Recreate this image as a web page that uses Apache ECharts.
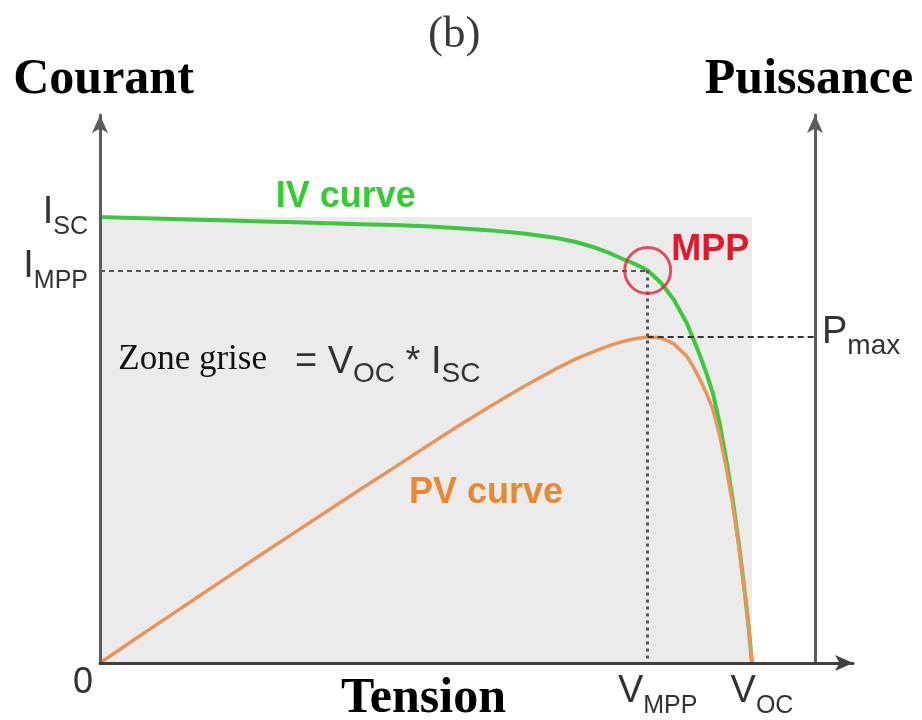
<!DOCTYPE html>
<html>
<head>
<meta charset="utf-8">
<script src="https://cdn.jsdelivr.net/npm/echarts@6/dist/echarts.min.js"></script>
<style>
  html, body { margin: 0; padding: 0; background: #fff; }
  #chart { width: 922px; height: 720px; }
</style>
</head>
<body>
<div id="chart"></div>
<script>
// Solar cell characteristic, normalised units (V / Voc, I / Isc, P on the same scale)
const voltage = [0, 0.05, 0.10, 0.15, 0.20, 0.25, 0.30, 0.35, 0.40, 0.45, 0.50, 0.55, 0.60, 0.65, 0.70,
                 0.73, 0.76, 0.78, 0.80, 0.82, 0.84, 0.86, 0.88, 0.90, 0.91, 0.92, 0.93, 0.94, 0.95,
                 0.96, 0.97, 0.98, 0.99, 0.995, 1.0];
const current = [1.000, 0.998, 0.996, 0.994, 0.992, 0.990, 0.988, 0.986, 0.984, 0.982, 0.979, 0.975, 0.970, 0.963, 0.953,
                 0.944, 0.931, 0.920, 0.907, 0.895, 0.880, 0.853, 0.815, 0.762, 0.727, 0.690, 0.650, 0.605, 0.540,
                 0.460, 0.370, 0.265, 0.145, 0.078, 0];
const power   = [0, 0.050, 0.099, 0.148, 0.197, 0.246, 0.294, 0.342, 0.390, 0.437, 0.485, 0.532, 0.577, 0.620, 0.660,
                 0.682, 0.700, 0.711, 0.720, 0.727, 0.731, 0.729, 0.716, 0.688, 0.664, 0.636, 0.605, 0.569, 0.513,
                 0.442, 0.359, 0.260, 0.144, 0.078, 0];

// Tick label names: [main symbol, subscript]
const voltageTicks = [['0', ''], ['V', 'MPP'], ['V', 'OC']];
const currentTicks = [['I', 'MPP'], ['I', 'SC']];
const powerTicks   = [['P', 'max']];

// Characteristic points
const mppIndex = power.indexOf(Math.max(...power));
const vMpp = voltage[mppIndex];
const iMpp = current[mppIndex];
const pMax = power[mppIndex];
const vOc = voltage[voltage.length - 1];
const iSc = current[0];

const SANS = '"Liberation Sans", Arial, sans-serif';
const SERIF = '"Liberation Serif", "Times New Roman", serif';
const TXT = '#333';
const GREEN = '#3cc83c';
const ORANGE = '#e8955a';
const RED = '#e3192b';

// Axis extents (arrow tips sit at the ends)
const xMax = 1.1549;
const yMax = 1.2287;
const powerAxisV = 1.0966; // voltage at which the power axis stands

const pairs = (ys) => voltage.map((v, i) => [v, ys[i]]);

function tickFormatter(values, names) {
  return function (val) {
    const k = values.findIndex(x => Math.abs(x - val) < 1e-9);
    if (k < 0) return '';
    const [b, s] = names[k];
    return s ? '{b|' + b + '}{s|' + s + '}' : '{z|' + b + '}';
  };
}

function subRich(big, small, drop, leftPad) {
  const d = drop - 0.1535 * (big - small);
  return {
    b: { fontFamily: SANS, fontSize: big, color: TXT, verticalAlign: 'bottom', padding: [0, 0, d, leftPad || 0] },
    s: { fontFamily: SANS, fontSize: small, color: TXT, verticalAlign: 'bottom' },
    z: { fontFamily: SANS, fontSize: 36, color: TXT, lineHeight: 20, padding: [0, 34, 0, 0] }
  };
}

const axisArrow = (color) => ({
  show: true,
  symbol: ['none', 'arrow'],
  symbolSize: [12, 18],
  lineStyle: { color: color, width: 3 }
});

const nameStyle = (extra) => Object.assign({
  fontFamily: SERIF, fontWeight: 'bold', fontSize: 50, color: '#000'
}, extra || {});

const xTickValues = [0, vMpp, vOc];
const iTickValues = [iMpp, iSc];
const pTickValues = [pMax];

const option = {
  animation: false,
  title: {
    text: '(b)',
    left: 423,
    top: 8,
    textStyle: { fontFamily: SERIF, fontSize: 45, fontWeight: 'normal', color: '#3a3a3a' }
  },
  grid: { left: 100, right: 69, top: 115, bottom: 57, containLabel: false, outerBoundsMode: 'none' },
  xAxis: {
    type: 'value',
    min: 0,
    max: xMax,
    z: 10,
    axisLine: axisArrow('#404040'),
    axisTick: { show: false },
    splitLine: { show: false },
    axisLabel: {
      customValues: xTickValues,
      margin: 10,
      formatter: tickFormatter(xTickValues, voltageTicks),
      rich: subRich(38, 25, 10, 20)
    },
    name: 'Tension',
    nameLocation: 'middle',
    nameGap: 11,
    nameMoveOverlap: false,
    nameTextStyle: nameStyle({ padding: [0, 106, 0, 0] })
  },
  yAxis: [
    {
      type: 'value',
      position: 'left',
      min: 0,
      max: yMax,
      z: 10,
      axisLine: axisArrow('#5c5c5c'),
      axisTick: { show: false },
      splitLine: { show: false },
      axisLabel: {
        customValues: iTickValues,
        margin: 12,
        formatter: tickFormatter(iTickValues, currentTicks),
        rich: subRich(38, 25, 10)
      },
      name: 'Courant',
      nameLocation: 'end',
      nameGap: 10,
      nameMoveOverlap: false,
      nameTextStyle: nameStyle({ padding: [0, 0, 0, 7] })
    },
    {
      type: 'value',
      position: 'right',
      offset: -38,
      min: 0,
      max: yMax,
      z: 10,
      axisLine: axisArrow('#5c5c5c'),
      axisTick: { show: false },
      splitLine: { show: false },
      axisLabel: {
        customValues: pTickValues,
        margin: 7,
        formatter: tickFormatter(pTickValues, powerTicks),
        rich: subRich(38, 28, 10)
      },
      name: 'Puissance',
      nameLocation: 'end',
      nameGap: 10,
      nameMoveOverlap: false,
      nameTextStyle: nameStyle({ padding: [0, 12, 0, 0] })
    }
  ],
  series: [
    {
      // grey rectangle Voc x Isc
      name: 'zone',
      type: 'line',
      data: [],
      z: 1,
      silent: true,
      markArea: {
        silent: true,
        itemStyle: { color: '#ebebeb' },
        data: [[{ coord: [0, 0] }, { coord: [vOc, iSc] }]]
      },
      markPoint: {
        silent: true,
        symbol: 'circle',
        symbolSize: 0,
        data: [{
          coord: [0.028, 0.668],
          label: {
            show: true,
            position: 'right',
            distance: 0,
            formatter: '{zt|Zone grise}{zb|= V}{zs|OC}{zb| * I}{zs|SC}',
            rich: {
              zt: { fontFamily: SERIF, fontSize: 35, color: '#111', verticalAlign: 'bottom', padding: [0, 28, 11, 0] },
              zb: { fontFamily: SANS, fontSize: 38, color: TXT, verticalAlign: 'bottom', padding: [0, 0, 6.5, 0] },
              zs: { fontFamily: SANS, fontSize: 28, color: TXT, verticalAlign: 'bottom' }
            }
          }
        }]
      }
    },
    {
      name: 'IV curve',
      type: 'line',
      data: pairs(current),
      yAxisIndex: 0,
      z: 3,
      symbol: 'none',
      lineStyle: { color: GREEN, width: 4, join: 'round' },
      markLine: {
        silent: true,
        symbol: ['none', 'none'],
        label: { show: false },
        data: [
          [
            { coord: [0, iMpp], lineStyle: { color: '#555', width: 2, type: [5, 4] } },
            { coord: [vMpp, iMpp] }
          ],
          [
            { coord: [vMpp, iMpp], lineStyle: { color: '#555', width: 3, type: [3, 4] } },
            { coord: [vMpp, 0] }
          ]
        ]
      },
      markPoint: {
        silent: true,
        symbol: 'circle',
        symbolSize: 0,
        data: [{
          coord: [0.377, 1.045],
          label: {
            show: true, position: 'inside', formatter: 'IV curve',
            fontFamily: SANS, fontWeight: 'bold', fontSize: 36, color: '#33cc33'
          }
        }]
      }
    },
    {
      name: 'PV curve',
      type: 'line',
      data: pairs(power),
      yAxisIndex: 1,
      z: 4,
      symbol: 'none',
      lineStyle: { color: ORANGE, width: 3.5, join: 'round' },
      markLine: {
        silent: true,
        symbol: ['none', 'none'],
        label: { show: false },
        data: [
          [
            { coord: [vMpp, pMax], lineStyle: { color: '#333', width: 2, type: [6, 4] } },
            { coord: [powerAxisV, pMax] }
          ]
        ]
      },
      markPoint: {
        silent: true,
        symbol: 'circle',
        symbolSize: 0,
        data: [{
          coord: [0.592, 0.381],
          label: {
            show: true, position: 'inside', formatter: 'PV curve',
            fontFamily: SANS, fontWeight: 'bold', fontSize: 36, color: '#e8892f'
          }
        }]
      }
    },
    {
      name: 'MPP',
      type: 'scatter',
      data: [[vMpp, iMpp]],
      z: 5,
      silent: true,
      symbol: 'circle',
      symbolSize: 46,
      itemStyle: { color: 'rgba(0,0,0,0)', borderColor: '#d9283a', borderWidth: 3 },
      markPoint: {
        silent: true,
        symbol: 'circle',
        symbolSize: 0,
        data: [{
          coord: [0.936, 0.926],
          label: {
            show: true, position: 'inside', formatter: 'MPP',
            fontFamily: SANS, fontWeight: 'bold', fontSize: 36, color: RED
          }
        }]
      }
    }
  ]
};

const chart = echarts.init(document.getElementById('chart'), null, { renderer: 'canvas' });
chart.setOption(option);
</script>
</body>
</html>
